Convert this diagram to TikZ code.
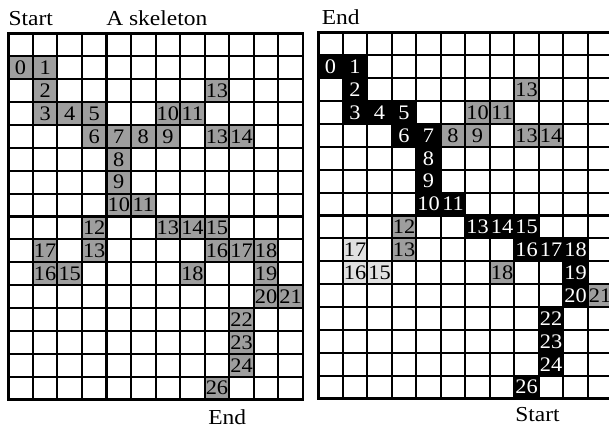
\documentclass[tikz,border=0pt]{standalone}
\usepackage{fontspec}
\newfontfamily\tnr[FakeStretch=1.1]{Liberation Serif}
\newfontfamily\tnrd[FakeStretch=1.08]{Liberation Serif}
\begin{document}
\begin{tikzpicture}[x=0.75pt,y=-0.75pt,
  gridline/.style={line width=1.6pt,black},
  border/.style={line width=2pt,black},
  label/.style={inner sep=0pt,anchor=base west,font=\tnr\fontsize{16}{18}\selectfont},
  num/.style={inner sep=0pt,font=\tnrd\fontsize{15.5}{17}\selectfont},
  grayfill/.style={fill=black!38},
  lightfill/.style={fill=black!12},
  blackfill/.style={fill=black}]
\useasboundingbox (0,0) rectangle (609,428);
\clip (0,0) rectangle (609,428);
% ---------- left grid fills ----------
\foreach \r/\c/\n in {1/0/0,1/1/1,2/1/2,2/8/13,3/1/3,3/2/4,3/3/5,3/6/10,3/7/11,
  4/3/6,4/4/7,4/5/8,4/6/9,4/8/13,4/9/14,5/4/8,6/4/9,7/4/10,7/5/11,
  8/3/12,8/6/13,8/7/14,8/8/15,9/1/17,9/3/13,9/8/16,9/9/17,9/10/18,
  10/1/16,10/2/15,10/7/18,10/10/19,11/10/20,11/11/21,12/9/22,13/9/23,14/9/24,15/8/26}{
  \fill[grayfill] ({8.3+\c*24.55},{33.3+\r*22.9}) rectangle ({8.3+(\c+1)*24.55},{33.3+(\r+1)*22.9});
  \node[num] (L\r-\c) at ({8.3+(\c+0.5)*24.55},{33.3+(\r+0.5)*22.9}) {\n};
}
% ---------- right grid fills ----------
\foreach \r/\c/\n in {2/8/13,3/6/10,3/7/11,4/5/8,4/6/9,4/8/13,4/9/14,
  8/3/12,9/3/13,10/7/18,11/11/21}{
  \fill[grayfill] ({318.3+\c*24.5},{32.3+\r*22.9}) rectangle ({318.3+(\c+1)*24.5},{32.3+(\r+1)*22.9});
  \node[num] (R\r-\c) at ({318.3+(\c+0.5)*24.5},{32.3+(\r+0.5)*22.9}) {\n};
}
\foreach \r/\c/\n in {9/1/17,10/1/16,10/2/15}{
  \fill[lightfill] ({318.3+\c*24.5},{32.3+\r*22.9}) rectangle ({318.3+(\c+1)*24.5},{32.3+(\r+1)*22.9});
  \node[num] (R\r-\c) at ({318.3+(\c+0.5)*24.5},{32.3+(\r+0.5)*22.9}) {\n};
}
\foreach \r/\c/\n in {1/0/0,1/1/1,2/1/2,3/1/3,3/2/4,3/3/5,4/3/6,4/4/7,5/4/8,6/4/9,7/4/10,7/5/11,
  8/6/13,8/7/14,8/8/15,9/8/16,9/9/17,9/10/18,10/10/19,11/10/20,12/9/22,13/9/23,14/9/24,15/8/26}{
  \fill[blackfill] ({318.3+\c*24.5},{32.3+\r*22.9}) rectangle ({318.3+(\c+1)*24.5},{32.3+(\r+1)*22.9});
  \node[num,text=white] (R\r-\c) at ({318.3+(\c+0.5)*24.5},{32.3+(\r+0.5)*22.9}) {\n};
}
% ---------- grid lines ----------
\foreach \i in {1,...,11}{
  \draw[gridline] ({8.3+\i*24.55},33.3) -- ({8.3+\i*24.55},{33.3+16*22.9});
  \draw[gridline] ({318.3+\i*24.5},32.3) -- ({318.3+\i*24.5},{32.3+16*22.9});
}
\foreach \j in {1,...,15}{
  \draw[gridline] (8.3,{33.3+\j*22.9}) -- ({8.3+12*24.55},{33.3+\j*22.9});
  \draw[gridline] (318.3,{32.3+\j*22.9}) -- ({318.3+12*24.5},{32.3+\j*22.9});
}
\draw[border] (8.3,33.3) rectangle ({8.3+12*24.55},{33.3+16*22.9});
\draw[border] (318.3,32.3) rectangle ({318.3+12*24.5},{32.3+16*22.9});
% ---------- labels ----------
\node[label] (startL) at (8.3,26) {Start};
\node[label] (title) at (106,26) {A skeleton};
\node[label] (endR) at (321.5,25) {End};
\node[label] (endL) at (208,424) {End};
\node[label] (startR) at (515,421) {Start};
\end{tikzpicture}
\end{document}
